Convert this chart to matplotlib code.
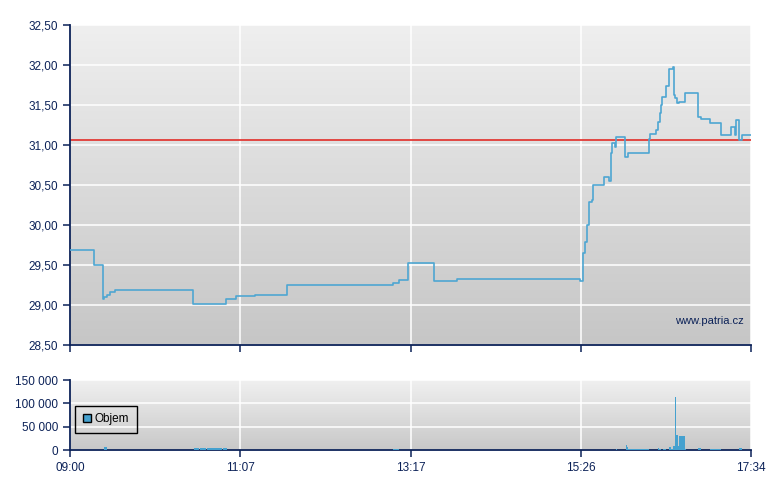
import numpy as np
import matplotlib
matplotlib.use("Agg")
import matplotlib.pyplot as plt
from matplotlib.patches import Patch

plt.rcParams['font.family'] = ['Liberation Sans', 'DejaVu Sans']

# minutes since 09:00
price_min = [0, 18, 25, 26, 28, 30, 34, 93, 118, 125, 140, 164, 244, 248, 255, 275, 292,
             385, 387, 389, 390, 392, 394, 395, 403, 407, 408, 409, 411, 412, 419, 421,
             437, 438, 442, 444, 445, 446, 447, 450, 452, 455, 456, 457, 458, 460, 464,
             474, 476, 483, 491, 499, 502, 503, 505, 507, 514]
price_val = [29.69, 29.50, 29.08, 29.10, 29.12, 29.16, 29.19, 29.01, 29.07, 29.11, 29.12,
             29.25, 29.27, 29.31, 29.52, 29.30, 29.33,
             29.30, 29.65, 29.79, 30.00, 30.29, 30.31, 30.50, 30.60, 30.55, 30.90, 31.02,
             30.98, 31.10, 30.85, 30.90,
             31.08, 31.14, 31.19, 31.29, 31.40, 31.50, 31.60, 31.74, 31.95, 31.97, 31.62,
             31.59, 31.52, 31.54, 31.65,
             31.35, 31.33, 31.27, 31.12, 31.23, 31.12, 31.31, 31.06, 31.12, 31.12]
prev_close = 31.06

vol_start = [25.7, 93.6, 98.1, 103.4, 115.7, 244.0, 412.1, 419.7, 420.2, 421.0, 443.8,
             444.6, 447.6, 452.1, 453.6, 455.2, 456.7, 457.4, 459.2, 459.7, 464.2, 474.0,
             483.1, 505.0]
vol_width = [2.0, 3.5, 4.3, 11.3, 2.6, 4.3, 0.8, 0.6, 0.8, 15.8, 0.8,
             1.7, 2.3, 1.5, 1.5, 1.5, 0.75, 1.7, 0.5, 4.5, 0.75, 2.3,
             8.3, 2.3]
vol_val = [7000, 5000, 5000, 5000, 5000, 2000, 2000, 10700, 6400, 3000, 4300,
           2000, 2000, 6400, 3000, 8600, 113600, 32000, 8600, 30000, 2000, 5000,
           2000, 4300]

xticks = [0, 128.5, 257, 385.5, 514]
xlabels = ['09:00', '11:07', '13:17', '15:26', '17:34']
price_ticks = [28.5, 29.0, 29.5, 30.0, 30.5, 31.0, 31.5, 32.0, 32.5]
vol_ticks = [0, 50000, 100000, 150000]

navy = '#0c2258'
line_blue = '#4ea6d2'

fig = plt.figure(figsize=(7.8, 4.9), dpi=100)
ax = fig.add_axes([70/780, 1-345/490, 681/780, 320/490])
axv = fig.add_axes([70/780, 1-450/490, 681/780, 70/490])


def style(a, top_c, bot_c):
    grad = np.linspace(0, 1, 256).reshape(-1, 1)
    cmap = matplotlib.colors.LinearSegmentedColormap.from_list('g', [top_c, bot_c])
    a.imshow(grad, cmap=cmap, aspect='auto', extent=[0, 1, 0, 1],
             transform=a.transAxes, zorder=0)
    for s in ['top', 'right']:
        a.spines[s].set_visible(False)
    for s in ['left', 'bottom']:
        a.spines[s].set_color(navy)
        a.spines[s].set_linewidth(1.3)
    a.tick_params(colors=navy, labelsize=8.5, length=5, width=1.1, direction='out')
    a.grid(True, color='white', linewidth=1.1)
    a.set_axisbelow(True)


style(ax, '#efefef', '#c6c6c6')
style(axv, '#f0f0f0', '#c8c8c8')

ax.step(price_min, price_val, where='post', color=line_blue, lw=1.2, zorder=3)
ax.axhline(prev_close, color='#e23a36', lw=1.3, zorder=2)
ax.set_xlim(0, 514)
ax.set_ylim(28.5, 32.5)
ax.set_yticks(price_ticks)
ax.set_yticklabels([f'{v:.2f}'.replace('.', ',') for v in price_ticks])
ax.set_xticks(xticks)
ax.set_xticklabels([])
ax.text(0.99, 0.06, 'www.patria.cz', transform=ax.transAxes, ha='right', va='bottom',
        color=navy, fontsize=8)

axv.bar(vol_start, vol_val, width=vol_width, align='edge', color='#45a1cf', zorder=3)
axv.set_xlim(0, 514)
axv.set_ylim(0, 150000)
axv.set_yticks(vol_ticks)
axv.set_yticklabels([f'{v:,}'.replace(',', ' ') for v in vol_ticks])
axv.set_xticks(xticks)
axv.set_xticklabels(xlabels)
leg = axv.legend(handles=[Patch(facecolor='#45a1cf', edgecolor='black', label='Objem')],
                 loc='upper left', bbox_to_anchor=(0.008, 0.635), borderaxespad=0,
                 fontsize=8.5, fancybox=False, framealpha=1, handlelength=0.7,
                 handleheight=0.7, handletextpad=0.3, borderpad=0.65)
leg.get_frame().set_edgecolor('black')
leg.get_frame().set_facecolor('none')
leg.get_frame().set_linewidth(1.0)

fig.savefig('out.png', dpi=100)
